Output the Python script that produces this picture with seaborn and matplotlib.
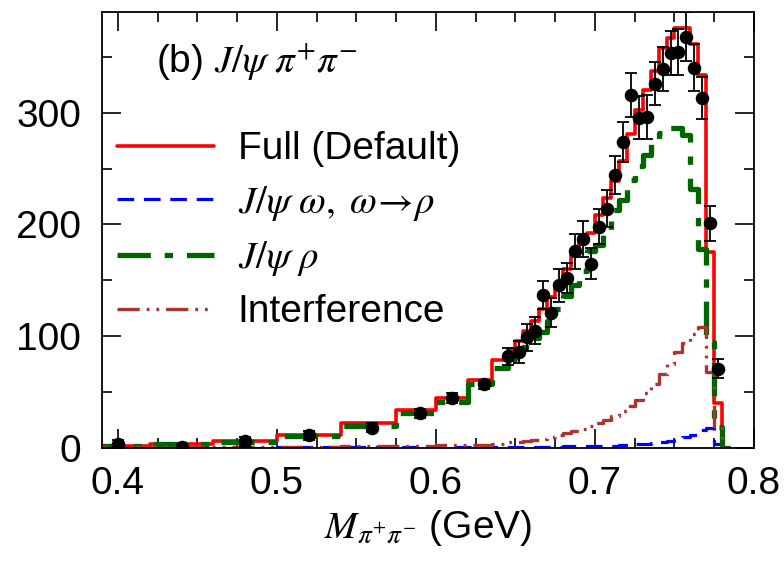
import numpy as np
import pandas as pd
import matplotlib
matplotlib.use("Agg")
import matplotlib.pyplot as plt
import seaborn as sns
from matplotlib.ticker import MultipleLocator
from matplotlib.lines import Line2D

# ---- histogram binning (GeV) ----
bin_edges = [0.38, 0.42, 0.46, 0.50, 0.54, 0.575, 0.60, 0.62, 0.635, 0.645,
             0.650, 0.655, 0.660, 0.665, 0.670, 0.675, 0.680, 0.685, 0.690,
             0.695, 0.700, 0.705, 0.710, 0.715, 0.720, 0.725, 0.730, 0.735,
             0.740, 0.745, 0.750, 0.755, 0.760, 0.765, 0.770, 0.775, 0.780,
             0.785]

# ---- model components (events per bin) ----
full_default = [2, 3.5, 6, 11.6, 22, 34, 44.6, 60.7, 78.6,
                89, 96, 105, 114, 124, 135, 148, 160, 175, 184, 192, 208, 224,
                239, 257, 281, 302, 320, 337, 358, 367, 376, 376, 361, 334,
                175, 40, 0]
jpsi_omega = [0.3, 0.3, 0.4, 0.5, 0.6, 0.7, 0.8, 0.9, 1.0,
              1.0, 1.0, 1.1, 1.1, 1.2, 1.2, 1.3, 1.4, 1.5, 1.6, 1.7, 1.8, 2.0,
              2.2, 2.5, 2.8, 3.2, 3.8, 4.5, 5.2, 6.2, 7.5, 9.5, 12, 16, 18, 4, 0]
jpsi_rho = [2, 3.5, 5, 11, 20, 31.5, 41, 57, 72,
            80, 84, 90, 98, 104, 114, 124, 136, 146, 158, 176, 182, 195, 213,
            222, 240, 252, 262, 274, 282, 286, 286, 280, 232, 178, 95, 19, 0]
interference = [0.5, 0.5, 0.8, 1.0, 1.5, 1.8, 2.5, 3, 4,
                5, 5, 6, 7, 8, 10, 12, 13, 15, 17, 20, 22, 25, 29, 33, 38, 43,
                49, 57, 66, 75, 86, 94, 102, 108, 68, 18, 0]

# ---- data points ----
data_mass = [0.40, 0.44, 0.48, 0.52, 0.56, 0.59, 0.61, 0.63, 0.645,
             0.6525, 0.6575, 0.6625, 0.6675, 0.6725, 0.6775, 0.6825, 0.6875,
             0.6925, 0.6975, 0.7025, 0.7075, 0.7125, 0.7175, 0.7225, 0.7275,
             0.7325, 0.7375, 0.7425, 0.7475, 0.7525, 0.7575, 0.7625, 0.7675,
             0.7725, 0.7775]
data_counts = [4, 1, 6, 11.5, 18, 31, 44.6, 57, 82,
               86, 99, 105, 137, 121, 145.5, 152, 176, 187, 165, 198, 214, 244,
               274, 316, 295.5, 296, 326, 339, 353, 354.5, 368, 340, 313, 201, 71]
data_errors = [3, 1.5, 4, 4, 4, 4, 4.5, 4, 7.5,
               10, 12, 12, 12.6, 13, 14.5, 13.4, 15.6, 16, 14, 15.6, 16.4, 17,
               18, 19.6, 19, 20, 19.6, 20, 19.6, 20.5, 21.9, 21, 19, 15.6, 8.6]

labels = ["Full (Default)", r"$J/\psi\ \omega,\ \omega\!\rightarrow\!\rho$",
          r"$J/\psi\ \rho$", "Interference"]

sns.set_theme(style="ticks")
plt.rcParams['font.family'] = ['Liberation Sans', 'DejaVu Sans']
plt.rcParams['mathtext.fontset'] = 'stix'
plt.rcParams['lines.scale_dashes'] = False
plt.rcParams['text.color'] = 'black'
plt.rcParams['axes.labelcolor'] = 'black'
plt.rcParams['xtick.color'] = 'black'
plt.rcParams['ytick.color'] = 'black'

FS = 28

fig = plt.figure(figsize=(7.84, 5.66), dpi=100)
ax = fig.add_axes([102/784, 118/566, 652/784, 436/566])

centers = [(a + b) / 2 for a, b in zip(bin_edges[:-1], bin_edges[1:])]

styles = [
    dict(values=full_default, color="#ff0000", lw=2.6, dashes=None),
    dict(values=jpsi_omega, color="#0000ff", lw=2.3, dashes=(12, 7)),
    dict(values=jpsi_rho, color="#006400", lw=3.8, dashes=(24, 10, 6, 10)),
    dict(values=interference, color="#aa3333", lw=2.4, dashes=(16, 5, 2, 5, 2, 5)),
]

handles = []
for st in styles:
    df = pd.DataFrame({"mass": centers, "w": st["values"]})
    kw = dict(color=st["color"], linewidth=st["lw"])
    if st["dashes"] is not None:
        kw["dashes"] = st["dashes"]
    sns.histplot(data=df, x="mass", weights="w", bins=bin_edges,
                 element="step", fill=False, ax=ax, **kw)
    handles.append(Line2D([], [], **kw))

ax.errorbar(data_mass, data_counts, yerr=data_errors, fmt="none",
            ecolor="black", elinewidth=1.3, capsize=4.5, capthick=1.3, zorder=5)
sns.scatterplot(x=data_mass, y=data_counts, color="black", s=95,
                edgecolor="black", linewidth=0, ax=ax, zorder=6)

ax.set_xlim(0.39, 0.80)
ax.set_ylim(0, 390)

ax.xaxis.set_major_locator(MultipleLocator(0.1))
ax.xaxis.set_minor_locator(MultipleLocator(0.025))
ax.yaxis.set_major_locator(MultipleLocator(100))
ax.yaxis.set_minor_locator(MultipleLocator(50))
ax.tick_params(which="both", direction="in", top=True, right=True,
               color="black", labelcolor="black", width=1.2, labelsize=FS)
ax.tick_params(which="major", length=14)
ax.tick_params(which="minor", length=7)
ax.tick_params(axis="x", pad=13)
ax.tick_params(axis="y", pad=15)
for sp in ax.spines.values():
    sp.set_color("black")
    sp.set_linewidth(1.3)

ax.set_ylabel("")
ax.set_xlabel(r"$M_{\pi^{+}\pi^{-}}$ (GeV)", fontsize=FS, labelpad=4,
              color="black")

ax.text(0.083, 0.862, r"(b) $J/\psi\ \pi^{+}\pi^{-}$", transform=ax.transAxes,
        fontsize=FS, va="baseline", ha="left", color="black")

ax.legend(handles=handles, labels=labels, loc="upper left",
          bbox_to_anchor=(0.023, 0.726), frameon=False, fontsize=FS,
          handlelength=2.5, handletextpad=0.6, labelspacing=0.42,
          borderpad=0, borderaxespad=0, labelcolor="black")

fig.savefig("out.png", dpi=100)
